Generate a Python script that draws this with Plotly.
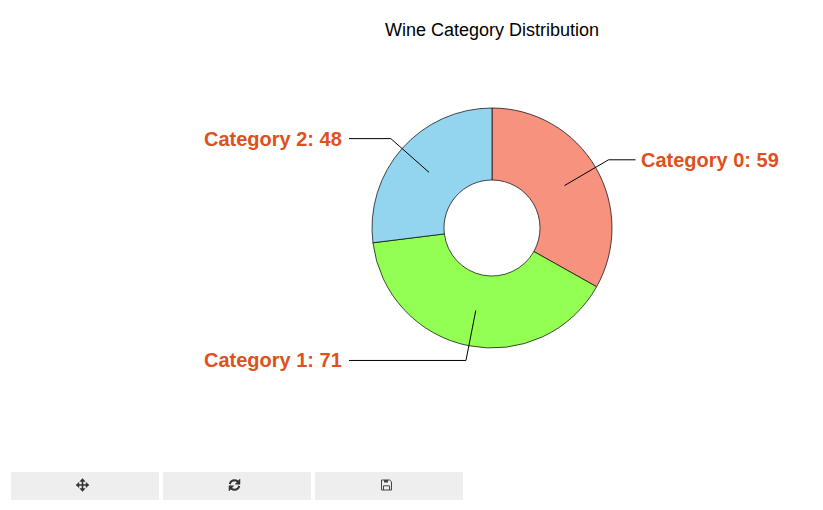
# Wine category donut with outside labels and leader lines
import math
import plotly.graph_objects as go

categories = ["Category 0", "Category 1", "Category 2"]
counts = [59, 71, 48]
colors = ["#F7927F", "#93FF52", "#93D4EF"]

title_text = "Wine Category Distribution"
label_color = "#E0501E"

# page has an 8px body margin, so the plot is 807x494
W, H = 807, 494
cx, cy, R = 492, 228, 120


def px(x):
    return (x - 8) / W


def py(y):
    return 1 - (y - 8) / H


def path(points, close=False):
    s = "M " + " L ".join(f"{px(x):.5f},{py(y):.5f}" for x, y in points)
    return s + (" Z" if close else "")


shapes = []
annotations = []

# Leader lines and labels, worked out from the slice angles
running = 0
total = sum(counts)
for name, count in zip(categories, counts):
    mid = (running + count / 2) / total * 2 * math.pi
    running += count
    sx, cs = math.sin(mid), -math.cos(mid)
    inner = (cx + 84 * sx, cy + 84 * cs)
    elbow = (cx + 135 * sx, cy + 135 * cs)
    right = sx > 0
    end = (elbow[0] + 27, elbow[1]) if right else (349, elbow[1])
    shapes.append(dict(type="path", xref="paper", yref="paper", path=path([inner, elbow, end]),
                       line=dict(color="black", width=1), layer="above"))
    annotations.append(dict(text=f"<b>{name}: {count}</b>", xref="paper", yref="paper",
                            x=px(end[0] + 3 if right else end[0] - 5), y=py(elbow[1]),
                            xanchor="left" if right else "right", yanchor="middle",
                            showarrow=False,
                            font=dict(family="Liberation Sans", size=20, color=label_color)))

# Toolbar buttons under the chart
for left in [11, 163, 315]:
    shapes.append(dict(type="rect", xref="paper", yref="paper", x0=px(left), x1=px(left + 148),
                       y0=py(500), y1=py(472), fillcolor="#EEEEEE", line=dict(width=0), layer="below"))

icon = dict(color="#333333", width=1.6)

# move icon
mx, my = 82.5, 485
shapes.append(dict(type="path", xref="paper", yref="paper", line=icon,
                   path=path([(mx - 5, my), (mx + 5, my)]) + " " + path([(mx, my - 5), (mx, my + 5)])))
for dx, dy in [(-6.5, 0), (6.5, 0), (0, -6.5), (0, 6.5)]:
    tip = (mx + dx, my + dy)
    a = (mx + dx * 0.55 + dy * 0.4, my + dy * 0.55 + dx * 0.4)
    b = (mx + dx * 0.55 - dy * 0.4, my + dy * 0.55 - dx * 0.4)
    shapes.append(dict(type="path", xref="paper", yref="paper", path=path([tip, a, b], True),
                       fillcolor="#333333", line=dict(color="#333333", width=0.5)))

# refresh icon
rx, ry = 234.5, 485
arc1 = [(rx + 4.8 * math.cos(math.radians(t)), ry + 4.8 * math.sin(math.radians(t))) for t in range(190, 331, 20)]
arc2 = [(rx + 4.8 * math.cos(math.radians(t)), ry + 4.8 * math.sin(math.radians(t))) for t in range(10, 151, 20)]
for arc in (arc1, arc2):
    shapes.append(dict(type="path", xref="paper", yref="paper", path=path(arc),
                       line=dict(color="#333333", width=2)))
shapes.append(dict(type="path", xref="paper", yref="paper", fillcolor="#333333",
                   line=dict(color="#333333", width=0.5),
                   path=path([(rx + 5.5, ry - 6), (rx + 5.5, ry - 0.8), (rx + 0.8, ry - 0.8)], True)))
shapes.append(dict(type="path", xref="paper", yref="paper", fillcolor="#333333",
                   line=dict(color="#333333", width=0.5),
                   path=path([(rx - 5.5, ry + 6), (rx - 5.5, ry + 0.8), (rx - 0.8, ry + 0.8)], True)))

# save icon
fx, fy = 386.5, 485
thin = dict(color="#444444", width=1)
shapes.append(dict(type="path", xref="paper", yref="paper", line=thin,
                   path=path([(fx - 5, fy - 5), (fx + 3.2, fy - 5), (fx + 5, fy - 3.2), (fx + 5, fy + 5), (fx - 5, fy + 5)], True)))
shapes.append(dict(type="path", xref="paper", yref="paper", line=thin,
                   path=path([(fx - 3, fy + 5), (fx - 3, fy + 0.8), (fx + 3, fy + 0.8), (fx + 3, fy + 5)])))
shapes.append(dict(type="path", xref="paper", yref="paper", fillcolor="#444444", line=dict(width=0),
                   path=path([(fx - 2.5, fy - 5), (fx - 2.5, fy - 2.5), (fx + 1.5, fy - 2.5), (fx + 1.5, fy - 5)], True)))

fig = go.Figure(go.Pie(
    labels=categories,
    values=counts,
    hole=0.4,
    sort=False,
    direction="clockwise",
    rotation=0,
    textinfo="none",
    marker=dict(colors=colors, line=dict(color="black", width=0.7)),
    domain=dict(x=[px(cx - R), px(cx + R)], y=[py(cy + R), py(cy - R)]),
))

annotations.append(dict(text=title_text, xref="paper", yref="paper", x=px(cx), y=py(30),
                        xanchor="center", yanchor="middle", showarrow=False,
                        font=dict(family="Liberation Sans", size=18, color="black")))

fig.update_layout(
    width=W,
    height=H,
    margin=dict(l=0, r=0, t=0, b=0),
    showlegend=False,
    paper_bgcolor="white",
    shapes=shapes,
    annotations=annotations,
)

fig.write_html("out.html", config={"displayModeBar": False})
